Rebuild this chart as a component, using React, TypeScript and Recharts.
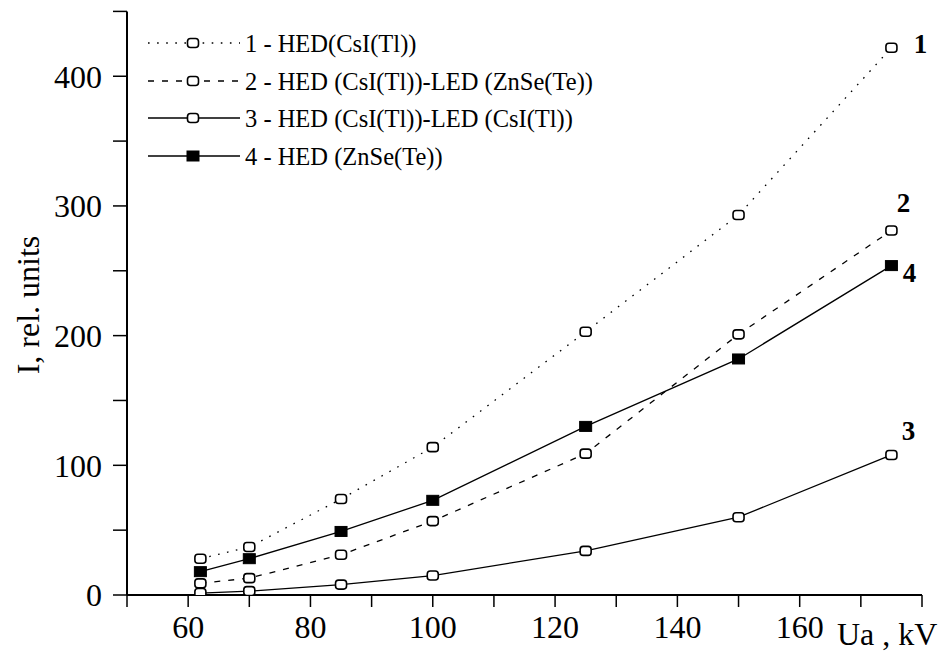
import React from 'react';
import { LineChart, Line, XAxis, YAxis, Customized, Label } from 'recharts';

const xValues = [62, 70, 85, 100, 125, 150, 175];
const series1 = [28, 37, 74, 114, 203, 293, 422];
const series2 = [9, 13, 31, 57, 109, 201, 281];
const series3 = [1.5, 3, 8, 15, 34, 60, 108];
const series4 = [18, 28, 49, 73, 130, 182, 254];

const seriesNames = [
  '1 - HED(CsI(Tl))',
  '2 - HED (CsI(Tl))-LED (ZnSe(Te))',
  '3 - HED (CsI(Tl))-LED (CsI(Tl))',
  '4 - HED (ZnSe(Te))',
];
const endLabels = ['1', '2', '3', '4'];

const xTicks = [50, 60, 70, 80, 90, 100, 110, 120, 130, 140, 150, 160, 170, 180];
const xTickLabels = [60, 80, 100, 120, 140, 160];
const yTicks = [0, 50, 100, 150, 200, 250, 300, 350, 400, 450];
const yTickLabels = [0, 100, 200, 300, 400];

const data = xValues.map((x, i) => ({
  x,
  s1: series1[i],
  s2: series2[i],
  s3: series3[i],
  s4: series4[i],
}));

const FONT = '"Liberation Serif", "Times New Roman", serif';
const dashes = ['1.6 7.5', '6 8', undefined, undefined];
const filled = [false, false, false, true];

const OpenDot = (props: any) => {
  const { cx, cy } = props;
  if (cx == null || cy == null) return null;
  return <rect x={cx - 5.5} y={cy - 4.5} width={11} height={9} rx={3} ry={3} fill="#fff" stroke="#000" strokeWidth={1.6} />;
};
const FilledDot = (props: any) => {
  const { cx, cy } = props;
  if (cx == null || cy == null) return null;
  return <rect x={cx - 6} y={cy - 5} width={12} height={10} fill="#000" stroke="#000" />;
};

const endLabel = (text: string, dx: number, dy: number) => (props: any) => {
  const { x, y, index } = props;
  if (index !== xValues.length - 1) return null;
  return (
    <text x={x + dx} y={y + dy} textAnchor="middle" dominantBaseline="central" fontFamily={FONT} fontWeight="bold" fontSize={27} fill="#000">
      {text}
    </text>
  );
};

const labelOffsets: [number, number][] = [
  [29, -4],
  [12, -28],
  [17, -24],
  [18, 7],
];

const LegendBlock = () => {
  const x0 = 148;
  const x1 = 240;
  const xm = 193;
  const rowY = [43, 81, 118, 156];
  return (
    <g>
      {seriesNames.map((name, i) => (
        <g key={name}>
          <line x1={x0} x2={x1} y1={rowY[i]} y2={rowY[i]} stroke="#000" strokeWidth={1.3} strokeDasharray={dashes[i]} />
          {filled[i] ? <FilledDot cx={xm} cy={rowY[i]} /> : <OpenDot cx={xm} cy={rowY[i]} />}
          <text x={245} y={rowY[i]} dominantBaseline="central" fontFamily={FONT} fontSize={24.5} fill="#000">
            {name}
          </text>
        </g>
      ))}
    </g>
  );
};

const keys = ['s1', 's2', 's3', 's4'];

export default function App() {
  return (
    <div style={{ position: 'absolute', left: 0, top: 0, width: 941, height: 656, background: '#fff' }}>
      <LineChart width={941} height={656} data={data} margin={{ top: 11.4, right: 19, bottom: 0, left: 0 }}>
        <XAxis
          dataKey="x"
          type="number"
          domain={[50, 180]}
          ticks={xTicks}
          interval={0}
          tickFormatter={(v: number) => (xTickLabels.includes(v) ? String(v) : '')}
          height={61}
          tickSize={12}
          tickMargin={8}
          axisLine={{ stroke: '#000', strokeWidth: 2 }}
          tickLine={{ stroke: '#000', strokeWidth: 1.5 }}
          tick={{ fill: '#000', fontSize: 32, fontFamily: FONT }}
        >
          <Label
            content={() => (
              <text x={837} y={645} fontFamily={FONT} fontSize={32} fill="#000">
                Ua , kV
              </text>
            )}
          />
        </XAxis>
        <YAxis
          type="number"
          domain={[0, 450]}
          ticks={yTicks}
          interval={0}
          allowDataOverflow
          tickFormatter={(v: number) => (yTickLabels.includes(v) ? String(v) : '')}
          width={127}
          tickSize={14}
          tickMargin={11}
          axisLine={{ stroke: '#000', strokeWidth: 2 }}
          tickLine={{ stroke: '#000', strokeWidth: 1.5 }}
          tick={{ fill: '#000', fontSize: 32, fontFamily: FONT }}
        >
          <Label
            content={() => (
              <text x={28} y={305} transform="rotate(-90 28 305)" textAnchor="middle" dominantBaseline="central" fontFamily={FONT} fontSize={32} fill="#000">
                I, rel. units
              </text>
            )}
          />
        </YAxis>
        {keys.map((k, i) => (
          <Line
            key={k}
            dataKey={k}
            name={seriesNames[i]}
            type="linear"
            stroke="#000"
            strokeWidth={1.3}
            strokeDasharray={dashes[i]}
            dot={filled[i] ? <FilledDot /> : <OpenDot />}
            activeDot={false}
            isAnimationActive={false}
            label={endLabel(endLabels[i], labelOffsets[i][0], labelOffsets[i][1])}
          />
        ))}
        <Customized component={LegendBlock} />
      </LineChart>
    </div>
  );
}
